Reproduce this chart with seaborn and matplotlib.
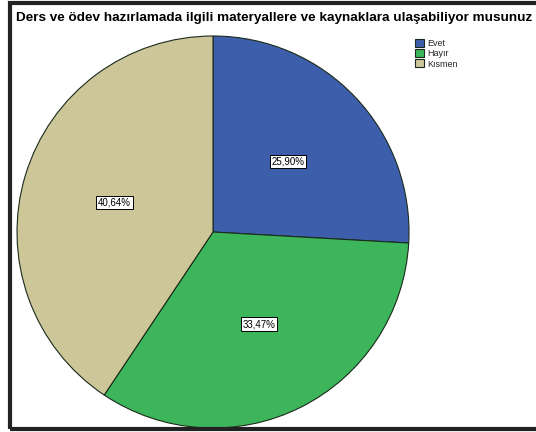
import matplotlib
matplotlib.use("Agg")
import matplotlib.pyplot as plt
from matplotlib.patches import Rectangle
import seaborn as sns

# Veriler
kategoriler = ["Evet", "Hayır", "Kısmen"]
yuzdeler = [25.90, 33.47, 40.64]
etiketler = ["25,90%", "33,47%", "40,64%"]
renkler = ["#3d5fab", "#3db55b", "#ccc699"]
baslik = "Ders ve ödev hazırlamada ilgili materyallere ve kaynaklara ulaşabiliyor musunuz"

sns.set_theme(style="white")
plt.rcParams["font.family"] = ["Liberation Sans", "DejaVu Sans"]

W, H = 536, 432
fig = plt.figure(figsize=(W / 100, H / 100), dpi=100)

# Pasta grafiği: merkez (213, 232), yarıçap 196 piksel
cx, cy, r = 213, 232, 196
ax = fig.add_axes([(cx - r) / W, (H - cy - r) / H, 2 * r / W, 2 * r / H])
wedges, texts = ax.pie(
    yuzdeler,
    colors=renkler,
    startangle=90,
    counterclock=False,
    labels=etiketler,
    labeldistance=0.525,
    wedgeprops=dict(edgecolor="#1a2a1a", linewidth=0.8),
    textprops=dict(fontsize=7, ha="center", va="center", color="black"),
)
for t in texts:
    t.set_bbox(dict(facecolor="white", edgecolor="black", linewidth=0.7, pad=1.2))
ax.set_xlim(-1, 1)
ax.set_ylim(-1, 1)
ax.axis("off")

# Başlık
fig.text(16 / W, 1 - 18 / H, baslik, fontsize=9.7, fontweight="bold",
         ha="left", va="center", color="black")

# Lejant
fig.legend(wedges, kategoriler, loc="upper left", bbox_to_anchor=(409 / W, 1 - 33 / H),
           frameon=False, fontsize=6.5, handlelength=1.0, handleheight=1.0,
           handletextpad=0.3, labelspacing=0.1, borderpad=0.2)

# Dış çerçeve
fig.patches.append(Rectangle((10 / W, 3 / H), 1.0, 426 / H, transform=fig.transFigure,
                             fill=False, edgecolor="#222222", linewidth=3, clip_on=False))

fig.savefig("out.png", dpi=100)
